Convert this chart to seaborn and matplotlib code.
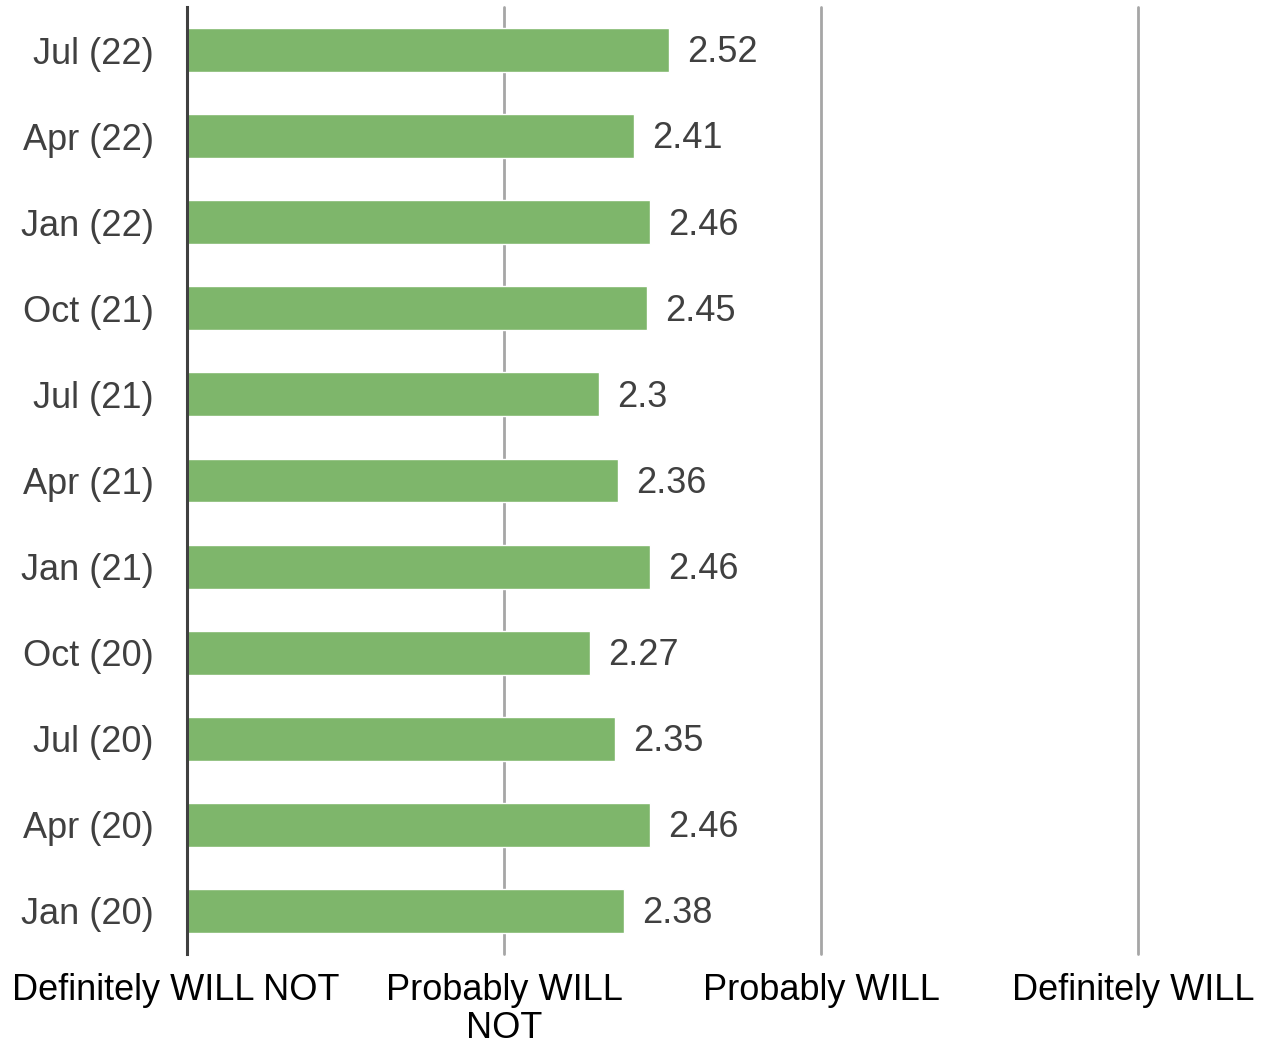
import matplotlib
matplotlib.use("Agg")
import matplotlib.pyplot as plt
import matplotlib.transforms as mtransforms
import seaborn as sns
import pandas as pd

# Survey waves (top to bottom) and mean intent scores on a 1-4 scale
waves = ["Jul (22)", "Apr (22)", "Jan (22)", "Oct (21)", "Jul (21)", "Apr (21)",
         "Jan (21)", "Oct (20)", "Jul (20)", "Apr (20)", "Jan (20)"]
scores = [2.52, 2.41, 2.46, 2.45, 2.30, 2.36, 2.46, 2.27, 2.35, 2.46, 2.38]
score_labels = ["2.52", "2.41", "2.46", "2.45", "2.3", "2.36", "2.46", "2.27", "2.35", "2.46", "2.38"]

scale_ticks = [1, 2, 3, 4]
scale_names = ["Definitely WILL NOT", "Probably WILL\nNOT", "Probably WILL", "Definitely WILL"]

sns.set_theme(style="white")
plt.rcParams["font.family"] = ["Liberation Sans", "DejaVu Sans"]

df = pd.DataFrame({"wave": waves, "score": scores})

fig = plt.figure(figsize=(12.68, 10.49), dpi=100)
ax = fig.add_axes([0.1475, 0.0906, 0.75, 0.9027])

sns.barplot(data=df, y="wave", x="score", orient="h", color="#7EB66B",
            saturation=1, width=0.51, ax=ax, zorder=3)

ax.set_xlim(1, 4)
ax.set_ylim(10.5, -0.5)

# vertical gridlines at each scale point
for t in scale_ticks[1:]:
    ax.axvline(t, color="#A6A6A6", lw=2, zorder=1, clip_on=False)

for s in ["top", "right", "bottom"]:
    ax.spines[s].set_visible(False)
ax.spines["left"].set_color("#404040")
ax.spines["left"].set_linewidth(2.2)
ax.spines["left"].set_zorder(4)

ax.set_xticks(scale_ticks)
ax.set_xticklabels(scale_names, fontsize=26, color="black", linespacing=1.1)
ax.tick_params(axis="x", length=0, pad=14)
ax.tick_params(axis="y", length=0, pad=24, labelsize=26, labelcolor="#404040")
ax.set_xlabel("")
ax.set_ylabel("")

# nudge the outer scale labels inward so they sit inside the figure
xlabels = ax.get_xticklabels()
xlabels[0].set_transform(xlabels[0].get_transform() +
                         mtransforms.ScaledTranslation(-0.11, 0, fig.dpi_scale_trans))
xlabels[-1].set_transform(xlabels[-1].get_transform() +
                          mtransforms.ScaledTranslation(-0.05, 0, fig.dpi_scale_trans))

texts = ax.bar_label(ax.containers[0], labels=score_labels, padding=13,
                     fontsize=26, color="#404040")
for t in texts:
    t.xyann = (13, -2)

fig.savefig("out.png", dpi=100)
